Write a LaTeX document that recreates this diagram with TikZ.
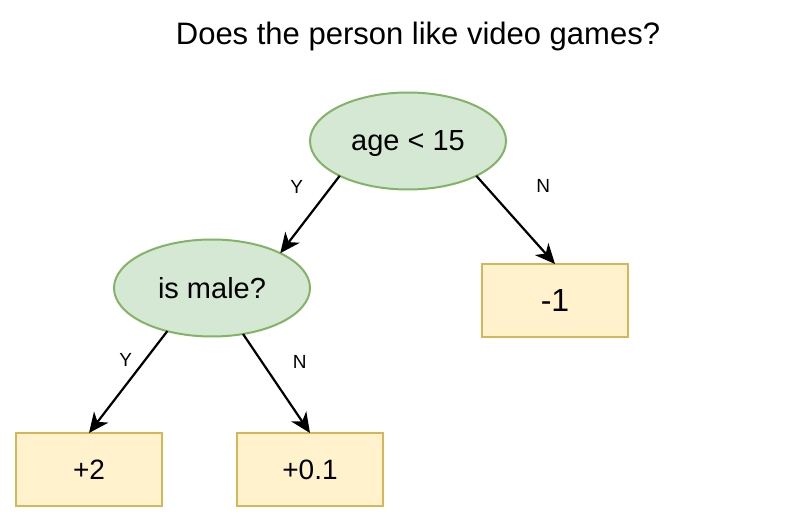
\documentclass[tikz,border=0pt]{standalone}
\usepackage{fontspec}
\setmainfont{Liberation Sans}
\usetikzlibrary{arrows.meta, positioning, shapes.geometric}
\definecolor{testfill}{HTML}{D5E8D4}
\definecolor{testline}{HTML}{82B366}
\definecolor{leaffill}{HTML}{FFF2CC}
\definecolor{leafline}{HTML}{D6B656}

\begin{document}
\begin{tikzpicture}[
	x=1pt, y=1pt,
	test/.style={ellipse, draw=testline, fill=testfill, line width=2pt,
		minimum width=196pt, minimum height=97pt, outer sep=0pt, text depth=0pt,
		font=\fontsize{29}{34}\selectfont},
	leaf/.style={rectangle, draw=leafline, fill=leaffill, line width=2pt,
		minimum width=146pt, minimum height=73pt, outer sep=0pt,
		font=\fontsize{28}{33}\selectfont},
	branch/.style={-{Stealth[length=20pt, width=18pt, inset=6pt]}, line width=2.2pt},
	answer/.style={inner sep=0pt, font=\fontsize{19}{22}\selectfont}
	]
\useasboundingbox (0,0) rectangle (806,-529);
\node[anchor=base, font=\fontsize{31}{37}\selectfont] (title) at (418,-45) {Does the person like video games?};
\node[test] (age) at (408,-141) {age < 15};
\node[test, below=50pt of age, xshift=-196pt] (male) {is male?};
\node[leaf, below=74.5pt of age, xshift=147pt, font=\fontsize{32}{38}\selectfont] (minus) {-1};
\node[leaf, below=96.5pt of male, xshift=-123pt] (plustwo) {+2};
\node[leaf, below=96.5pt of male, xshift=98pt] (plusone) {+0.1};

\draw[branch] (age.207) -- (male.27)
	node[answer, pos=0.145, left=27pt] {Y};
\draw[branch] (age.-27) -- (minus.north)
	node[answer, pos=0.115, right=50pt] {N};
\draw[branch] (male.224) -- (plustwo.north)
	node[answer, pos=0.284, left=12pt] {Y};
\draw[branch] (male.-56) -- (plusone.north)
	node[answer, pos=0.28, right=30pt] {N};
\end{tikzpicture}
\end{document}
